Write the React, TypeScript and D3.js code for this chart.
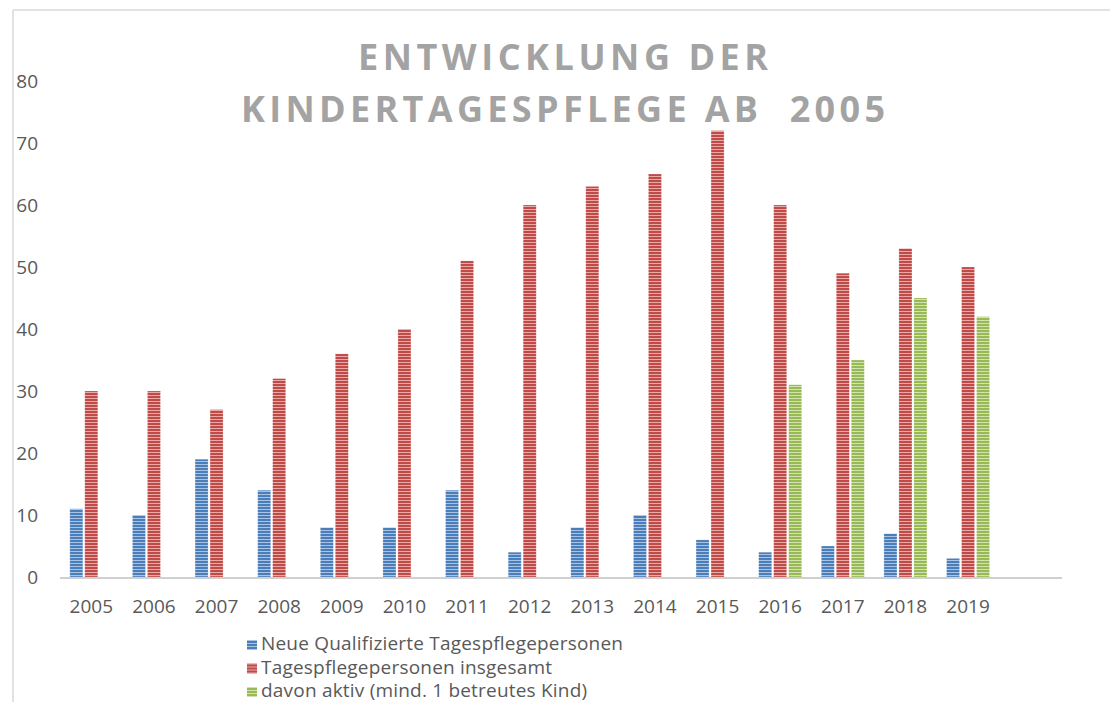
import React from "react";
import * as d3 from "d3";

const years = ["2005","2006","2007","2008","2009","2010","2011","2012","2013","2014","2015","2016","2017","2018","2019"];
const neueQualifizierte = [11,10,19,14,8,8,14,4,8,10,6,4,5,7,3];
const insgesamt = [30,30,27,32,36,40,51,60,63,65,72,60,49,53,50];
const davonAktiv = [0,0,0,0,0,0,0,0,0,0,0,31,35,45,42];
const seriesNames = ["Neue Qualifizierte Tagespflegepersonen","Tagespflegepersonen insgesamt","davon aktiv (mind. 1 betreutes Kind)"];
const yTicks = [0,10,20,30,40,50,60,70,80];
const titleLines = ["ENTWICKLUNG DER","KINDERTAGESPFLEGE AB  2005"];

const seriesData = [neueQualifizierte, insgesamt, davonAktiv];
const palette = [
  { id: "pBlue", dark: "#4a7ebb", light: "#aac3e2" },
  { id: "pRed", dark: "#bf4b48", light: "#eaa9a7" },
  { id: "pGreen", dark: "#98b954", light: "#d2e3b3" },
];

export default function App() {
  const W = 1110, H = 702;
  const left = 60, axisEnd = 1062;
  const step = (axisEnd - left) / (years.length + 1);
  const x = d3.scaleBand<string>().domain(years).range([left, left + step * years.length]).padding(0);
  const x1 = d3.scaleBand<number>().domain([0, 1, 2]).range([-21.5, 21.5]).paddingInner(0.13);
  const y = d3.scaleLinear().domain([0, 80]).range([577, 81]);
  const grey = "#595959";
  const cx = 563;

  return (
    <svg width={W} height={H} style={{ position: "absolute", left: 0, top: 0, background: "#fff" }}>
      <defs>
        {palette.map((p) => (
          <pattern key={p.id} id={p.id} patternUnits="userSpaceOnUse" width={4} height={3}>
            <rect width={4} height={3} fill={p.dark} />
            <rect y={2} width={4} height={1} fill={p.light} />
          </pattern>
        ))}
      </defs>
      <rect x={0} y={0} width={W} height={H} fill="#fff" />
      {/* frame */}
      <line x1={13} y1={10} x2={W} y2={10} stroke="#d9d9d9" strokeWidth={1.5} />
      <line x1={13} y1={10} x2={13} y2={H} stroke="#d9d9d9" strokeWidth={1.5} />

      {/* title */}
      <g fontFamily="'Open Sans', sans-serif" fontWeight={700} fontSize={36} fill="#a3a3a3" textAnchor="middle">
        <text x={cx} y={70} textLength={410} lengthAdjust="spacing" style={{ whiteSpace: "pre" }}>{titleLines[0]}</text>
        <text x={cx} y={122} textLength={644} lengthAdjust="spacing" style={{ whiteSpace: "pre" }}>{titleLines[1]}</text>
      </g>

      {/* y tick labels */}
      <g fontFamily="'Open Sans', sans-serif" fontSize={19} fill={grey} textAnchor="end">
        {yTicks.map((t) => (
          <text key={t} x={38} y={y(t) + 7}>{t}</text>
        ))}
      </g>

      {/* bars */}
      {seriesData.map((vals, si) => (
        <g key={si} fill={`url(#${palette[si].id})`}>
          {vals.map((v, i) =>
            v > 0 ? (
              <rect
                key={i}
                x={(x(years[i]) as number) + x.bandwidth() / 2 + (x1(si) as number)}
                y={y(v)}
                width={x1.bandwidth()}
                height={y(0) - y(v)}
                stroke="#ffffff"
                strokeOpacity={0.35}
                strokeWidth={0.6}
              />
            ) : null
          )}
        </g>
      ))}

      {/* x axis */}
      <line x1={left} y1={y(0) + 1} x2={axisEnd} y2={y(0) + 1} stroke="#d0d0d0" strokeWidth={2.2} />
      <g fontFamily="'Open Sans', sans-serif" fontSize={19} fill={grey} textAnchor="middle">
        {years.map((yr) => (
          <text key={yr} x={(x(yr) as number) + x.bandwidth() / 2} y={612.5}>{yr}</text>
        ))}
      </g>

      {/* legend */}
      <g fontFamily="'Open Sans', sans-serif" fontSize={19} fill={grey}>
        {seriesNames.map((n, i) => (
          <g key={n} transform={`translate(247, ${650 + i * 23.5})`}>
            <rect x={0} y={-10} width={10} height={10} fill={`url(#${palette[i].id})`} />
            <text x={14} y={0} letterSpacing={0.2}>{n}</text>
          </g>
        ))}
      </g>
    </svg>
  );
}
